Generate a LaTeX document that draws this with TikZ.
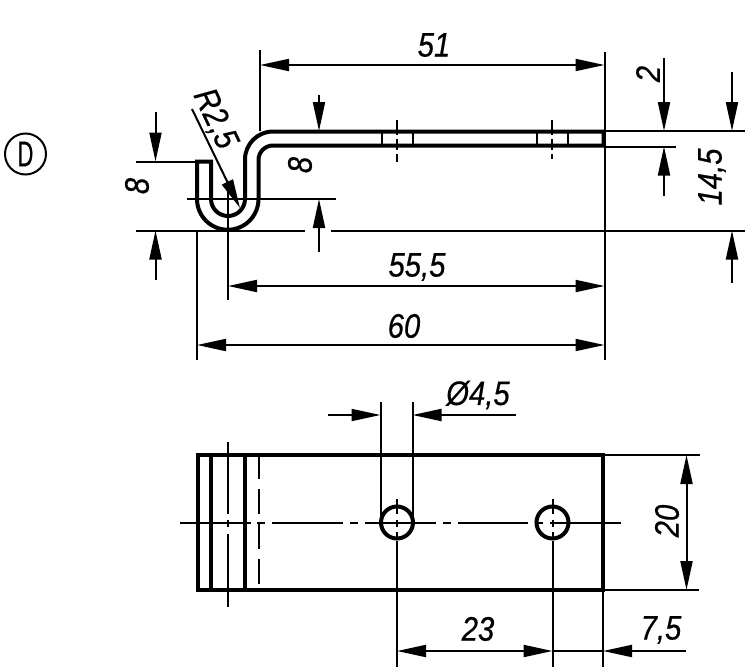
\documentclass[tikz,border=0pt]{standalone}
\usepackage{fontspec}
\usepackage{tikz}
\usetikzlibrary{arrows.meta}
\newfontfamily\dimfont[FakeStretch=0.86,FakeBold=0.5]{Liberation Sans Italic}
\newfontfamily\markfont[FakeStretch=0.6,FakeBold=0.5]{Liberation Sans}

\begin{document}
\begin{tikzpicture}[x=1pt,y=1pt,yscale=-1,>={Triangle[length=29pt,width=12pt]},
                    main line/.style={line width=4pt,line join=miter},
                    thin line/.style={line width=2pt},
                    dim line/.style={thin line,shorten >=0pt},
                    dim text/.style={inner sep=0pt,font=\dimfont\fontsize{34}{34}\selectfont}]

  \useasboundingbox (0,0) rectangle (750,672);

  % side view
  \draw[main line] (197,230.5) ++(0,-31.5) -- (197,161.5) -- (211,161.5) -- (211,199)
    arc[start angle=180,end angle=0,radius=17pt] -- (245,159.5)
    arc[start angle=180,end angle=270,radius=28pt] -- (603.5,131.5) -- (603.5,145.5) -- (273,145.5)
    arc[start angle=270,end angle=180,radius=14.5pt] -- (258.5,199)
    arc[start angle=0,end angle=180,radius=30.75pt];

  \foreach \hx in {381.5,412.5,537,567.5}
    \draw[thin line] (\hx,131) -- (\hx,146);
  \draw[thin line] (396.8,120) -- (396.8,135) (396.8,139) -- (396.8,150) (396.8,154) -- (396.8,161.5);
  \draw[thin line] (552.3,120) -- (552.3,135) (552.3,139) -- (552.3,150) (552.3,154) -- (552.3,159);

  % extension lines
  \draw[thin line]
    (260,50) -- (260,131)
    (604.5,52) -- (604.5,360)
    (604,131) -- (745,131)
    (604,146.5) -- (676,146.5)
    (136,230.5) -- (305,230.5)
    (330.5,230.5) -- (745,230.5)
    (136,161.5) -- (197,161.5)
    (186.5,199) -- (336,199)
    (228,188) -- (228,300)
    (197,230) -- (197,360);

  % dimensions of the side view
  \draw[dim line,<->] (260,65) -- (604.5,65);
  \draw[dim line,<->] (228,286) -- (604.5,286);
  \draw[dim line,<->] (197,345) -- (604.5,345);
  \draw[dim line,->] (664,58) -- (664,131);
  \draw[dim line,->] (664,196) -- (664,146.5);
  \draw[dim line,->] (732,72) -- (732,131);
  \draw[dim line,->] (732,283) -- (732,230.5);
  \draw[dim line,->] (155.5,112) -- (155.5,161.5);
  \draw[dim line,->] (155.5,280) -- (155.5,230.5);
  \draw[dim line,->] (319,95) -- (319,131);
  \draw[dim line,->] (319,251.5) -- (319,199);
  \draw[dim line,->] (192,109) -- (240,208);

  \node[dim text] (w51) at (434,45) {51};
  \node[dim text] (w555) at (417,267) {55,5};
  \node[dim text] (w60) at (404,326) {60};
  \node[dim text,rotate=90] (t2) at (648,74) {2};
  \node[dim text,rotate=90] (h145) at (712,177) {14,5};
  \node[dim text,rotate=90] (h8a) at (137,186) {8};
  \node[dim text,rotate=90] (h8b) at (300,165) {8};
  \node[dim text,rotate=-65] (r25) at (215,119) {R2,5};
  \node[circle,draw,thin line,minimum size=41pt,inner sep=0pt,
        font=\markfont\fontsize{36}{36}\selectfont] (mark) at (25.5,154) {D};

  % top view
  \draw[main line] (197.5,455) rectangle (603,590);
  \draw[main line] (211,455) -- (211,590) (245,455) -- (245,590);
  \draw[thin line] (258.5,457) -- (258.5,479) (258.5,489) -- (258.5,514)
    (258.5,524) -- (258.5,549) (258.5,559) -- (258.5,584);
  \draw[thin line] (228,442) -- (228,514) (228,520) -- (228,527) (228,534) -- (228,607);
  \draw[thin line] (179.5,522.5) -- (251,522.5) (257,522.5) -- (265,522.5) (272,522.5) -- (343,522.5)
    (350,522.5) -- (358,522.5) (365,522.5) -- (436,522.5) (442.5,522.5) -- (451,522.5)
    (457.5,522.5) -- (528,522.5) (535,522.5) -- (543,522.5) (550,522.5) -- (621,522.5);

  \foreach \cx/\nm in {397/holeA,552.5/holeB}{
    \node[circle,draw,main line,minimum size=32pt,inner sep=0pt] (\nm) at (\cx,522.5) {};
    \draw[thin line] (\cx,499) -- (\cx,514) (\cx,520) -- (\cx,527) (\cx,532) -- (\cx,537);
    \draw[thin line] (\nm.south) -- (\cx,667);
  }

  % dimensions of the top view
  \draw[thin line] (380.5,402) -- (380.5,522.5) (412.5,402) -- (412.5,522.5);
  \draw[thin line] (603,455) -- (700,455) (603,590) -- (699,590) (603,590) -- (603,667);
  \draw[dim line,->] (328,415) -- (380.5,415);
  \draw[dim line,->] (516,415) -- (412.5,415);
  \draw[dim line,<->] (686.5,455) -- (686.5,590);
  \draw[dim line,<->] (397,651) -- (552.5,651);
  \draw[dim line,->] (686,651) -- (603,651);
  \draw[thin line] (552.5,651) -- (603,651);

  \node[dim text] (dia) at (478,395) {Ø4,5};
  \node[dim text] (w23) at (478,629) {23};
  \node[dim text] (w75) at (661,630) {7,5};
  \node[dim text,rotate=90] (h20) at (667,521) {20};
\end{tikzpicture}
\end{document}
